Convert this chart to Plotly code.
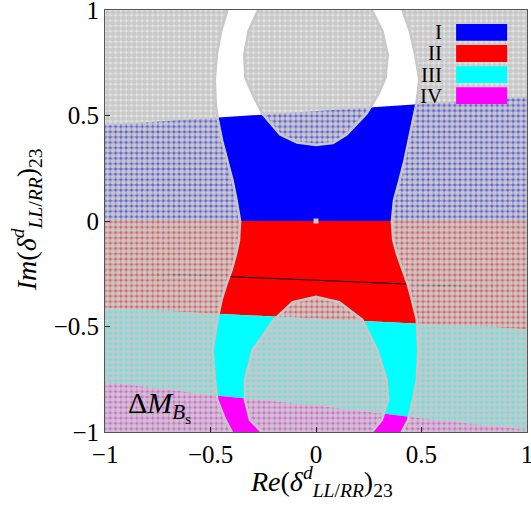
import plotly.graph_objects as go

# ---------------- data ----------------
# colour-band boundaries (straight lines across the scan, x from -1 to 1)
band_x = [-1.0, 1.0]
band_I_top = [0.455, 0.588]      # grey(no class) / I boundary
band_II_top = [0.0, 0.0]         # I / II boundary
band_III_top = [-0.413, -0.513]  # II / III boundary
band_IV_top_x = [-1.0, -0.5, 0.0, 0.5, 1.0]
band_IV_top_y = [-0.762, -0.825, -0.875, -0.935, -0.99]

# thin black curve inside region II
black_x = [-1.0, 1.0]
black_y = [-0.239, -0.323]

# Delta M_Bs allowed band: left/right edges as a function of Im
edge_y = [1.05, 1.0, 0.9, 0.79, 0.668, 0.55, 0.479, 0.38, 0.289, 0.19, 0.1, 0.0,
          -0.09, -0.16, -0.232, -0.30, -0.374, -0.469, -0.611, -0.754, -0.848,
          -0.943, -1.0, -1.05]
edge_xl = [-0.40, -0.42, -0.45, -0.47, -0.48, -0.475, -0.465, -0.445, -0.42, -0.395,
           -0.377, -0.36, -0.365, -0.38, -0.40, -0.425, -0.448, -0.468, -0.49, -0.48,
           -0.468, -0.43, -0.40, -0.38]
edge_xr = [0.39, 0.41, 0.445, 0.47, 0.49, 0.475, 0.46, 0.44, 0.42, 0.395, 0.37, 0.36,
           0.366, 0.385, 0.41, 0.435, 0.455, 0.478, 0.485, 0.478, 0.46, 0.437, 0.407, 0.39]

# excluded holes
hole_top_x = [-0.24, -0.275, -0.32, -0.34, -0.335, -0.30, -0.255, -0.17, -0.09, 0.0,
              0.08, 0.145, 0.24, 0.295, 0.33, 0.34, 0.315, 0.265, 0.23]
hole_top_y = [1.05, 1.0, 0.9, 0.79, 0.68, 0.6, 0.51, 0.41, 0.372, 0.36,
              0.37, 0.41, 0.51, 0.6, 0.68, 0.79, 0.9, 1.0, 1.05]
hole_bot_x = [-0.23, -0.258, -0.313, -0.337, -0.337, -0.30, -0.2, -0.11, 0.0,
              0.11, 0.22, 0.29, 0.335, 0.342, 0.312, 0.265, 0.235]
hole_bot_y = [-1.05, -1.0, -0.943, -0.848, -0.754, -0.611, -0.469, -0.385, -0.359,
              -0.385, -0.469, -0.611, -0.754, -0.848, -0.943, -1.0, -1.05]

origin_x = [0.0]
origin_y = [0.0]

legend_labels = ["I", "II", "III", "IV"]
legend_colors = ["#0000ff", "#ff0000", "#00ffff", "#ff00ff"]

tick_vals = [-1, -0.5, 0, 0.5, 1]
tick_text = ["\u22121", "\u22120.5", "0", "0.5", "1"]

GREY = "#c8c8c8"
FONT = "Liberation Serif"

fig = go.Figure()


def band(xs_top, ys_top, xs_bot, ys_bot, color):
    xs = list(xs_top) + list(reversed(xs_bot))
    ys = list(ys_top) + list(reversed(ys_bot))
    fig.add_trace(go.Scatter(x=xs, y=ys, mode="lines", fill="toself",
                             fillcolor=color, line=dict(width=0), hoverinfo="skip"))


band(band_x, band_I_top, band_x, band_II_top, legend_colors[0])
band(band_x, band_II_top, band_x, band_III_top, legend_colors[1])
band(band_x, band_III_top, band_IV_top_x, band_IV_top_y, legend_colors[2])
band(band_IV_top_x, band_IV_top_y, [-1.0, 1.0], [-1.0, -1.0], legend_colors[3])

fig.add_trace(go.Scatter(x=black_x, y=black_y, mode="lines",
                         line=dict(color="black", width=1), hoverinfo="skip"))

pattern = dict(shape=".", fgcolor=GREY, fgopacity=1, size=5.3, solidity=0.68)


def excluded(xs, ys):
    fig.add_trace(go.Scatter(x=xs, y=ys, mode="lines", fill="toself",
                             fillpattern=pattern,
                             line=dict(color=GREY, width=2.5), hoverinfo="skip"))


# left and right outer excluded regions
excluded([-1.05] + edge_xl + [-1.05], [edge_y[0]] + edge_y + [edge_y[-1]])
excluded([1.05] + edge_xr + [1.05], [edge_y[0]] + edge_y + [edge_y[-1]])
excluded(hole_top_x, hole_top_y)
excluded(hole_bot_x, hole_bot_y)

fig.add_trace(go.Scatter(x=origin_x, y=origin_y, mode="markers",
                         marker=dict(symbol="square", size=5, color=GREY), hoverinfo="skip"))

# legend (text left of coloured boxes)
box_x0, box_x1 = 0.832, 0.953
box_top = 0.967
box_h = 0.040
box_pitch = 0.050
for i, (lab, col) in enumerate(zip(legend_labels, legend_colors)):
    y1 = box_top - i * box_pitch
    y0 = y1 - box_h
    fig.add_shape(type="rect", xref="paper", yref="paper", x0=box_x0, x1=box_x1,
                  y0=y0, y1=y1, fillcolor=col, line=dict(width=0), layer="above")
    fig.add_annotation(xref="paper", yref="paper", x=0.803, y=(y0 + y1) / 2,
                       text=lab, showarrow=False, xanchor="right", yanchor="middle",
                       font=dict(family=FONT, size=21, color="black"))

fig.add_annotation(xref="paper", yref="paper", x=0.13, y=0.06,
                   text="\u0394<i>M</i><sub><i>B</i><sub>s</sub></sub>",
                   showarrow=False, xanchor="center", yanchor="middle",
                   font=dict(family=FONT, size=30, color="black"))

fig.add_annotation(xref="paper", yref="paper", x=0.514, y=-0.118,
                   text="<i>Re</i>(<i>\u03b4</i><sup><i>d</i></sup><sub><i>LL</i>/<i>RR</i></sub>)<sub>23</sub>",
                   showarrow=False, xanchor="center", yanchor="middle",
                   font=dict(family=FONT, size=28, color="black"))
fig.add_annotation(xref="paper", yref="paper", x=-0.187, y=0.502,
                   text="<i>Im</i>(<i>\u03b4</i><sup><i>d</i></sup><sub><i>LL</i>/<i>RR</i></sub>)<sub>23</sub>",
                   showarrow=False, xanchor="center", yanchor="middle", textangle=-90,
                   font=dict(family=FONT, size=28, color="black"))

axis_common = dict(range=[-1.0005, 1.0005], tickvals=tick_vals, ticktext=tick_text,
                   ticks="inside", ticklen=5, tickwidth=1, tickcolor="#222",
                   showline=True, linecolor="#555", linewidth=1, mirror=True,
                   showgrid=False, zeroline=False, ticklabeloverflow="allow",
                   automargin=False,
                   tickfont=dict(family=FONT, size=25, color="black"))
fig.update_xaxes(**axis_common)
fig.update_yaxes(**axis_common)

fig.update_layout(width=531, height=511, margin=dict(l=105, r=4, t=10, b=79, autoexpand=False),
                  plot_bgcolor="white", paper_bgcolor="white", showlegend=False,
                  font=dict(family=FONT, size=25, color="black"))

fig.write_html("out.html")
